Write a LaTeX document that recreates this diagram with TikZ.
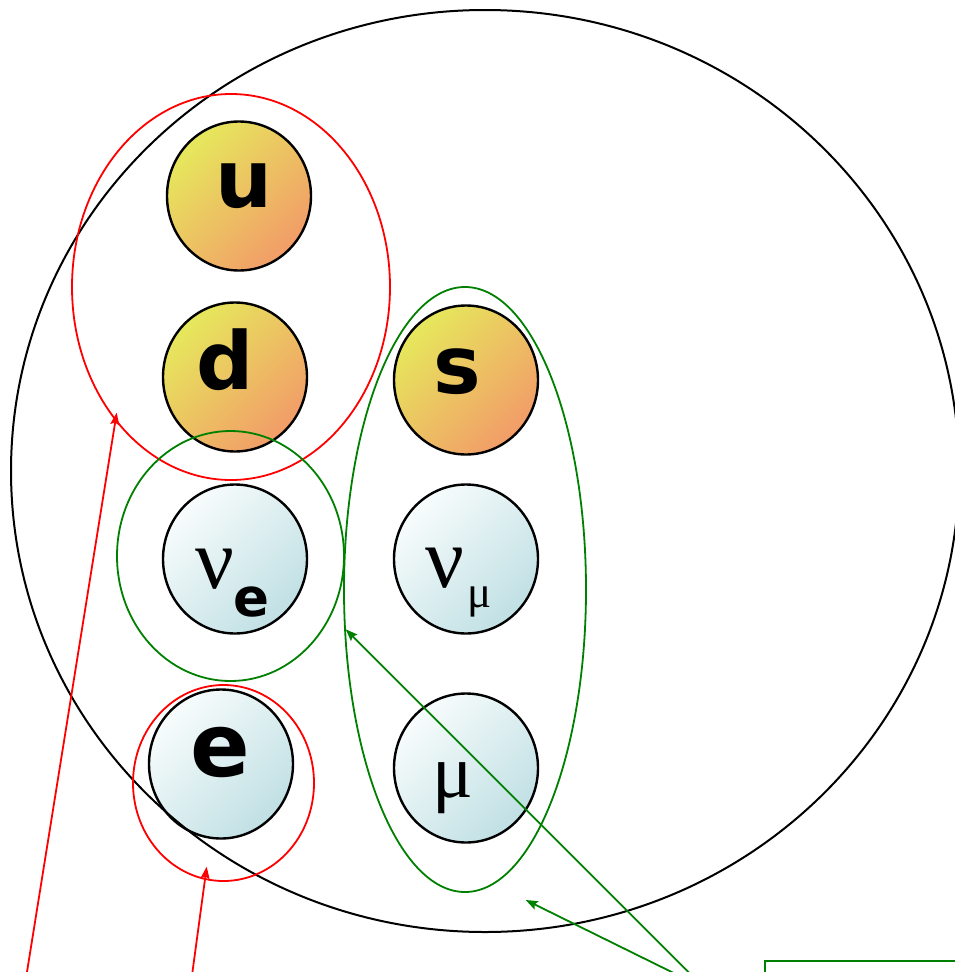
\documentclass[tikz,border=0pt]{standalone}
\usepackage{fontspec}
\usetikzlibrary{shapes.geometric,arrows.meta}
\newfontfamily\dvs{DejaVu Sans}
\newfontfamily\grk{Liberation Serif}
\definecolor{qtop}{RGB}{230,232,92}
\definecolor{qbot}{RGB}{242,156,104}
\definecolor{ltop}{RGB}{248,252,252}
\definecolor{lbot}{RGB}{192,224,228}
\definecolor{sgreen}{RGB}{0,128,0}
\tikzset{
  particle/.style={ellipse, draw=black, line width=2.4pt, minimum width=144pt, minimum height=149pt, inner sep=0pt},
  quark/.style={particle, top color=qtop, bottom color=qbot, shading angle=45},
  lepton/.style={particle, top color=ltop, bottom color=lbot, shading angle=45},
  grp/.style={ellipse, line width=1.8pt, inner sep=0pt, fill=none},
  lbl/.style={anchor=base, inner sep=0pt},
  arr/.style={line width=1.8pt, -{Stealth[length=12pt,width=9pt,inset=2pt]}}
}
\begin{document}
\begin{tikzpicture}[x=1pt,y=-1pt]
\useasboundingbox (0,0) rectangle (955,972);
\clip (0,0) rectangle (955,972);
\fill[white] (0,0) rectangle (955,972);
% particles
\node[quark] (u) at (239,196) {};
\node[quark] (d) at (235,377) {};
\node[quark] (s) at (466,380) {};
\node[lepton] (nue) at (235,559) {};
\node[lepton] (num) at (466,559) {};
\node[lepton] (e) at (221,764) {};
\node[lepton] (mu) at (466,768) {};
% labels
\node[lbl] (tu) at (243.5,207) {\dvs\bfseries\fontsize{80}{80}\selectfont u};
\node[lbl] (td) at (225,389) {\dvs\bfseries\fontsize{80}{80}\selectfont d};
\node[lbl] (ts) at (457.5,393) {\dvs\bfseries\fontsize{80}{80}\selectfont s};
\node[lbl] (te) at (220,776) {\dvs\bfseries\fontsize{88}{88}\selectfont e};
\node[lbl] (tnue) at (215,588) {\grk\fontsize{86}{86}\selectfont ν};
\node[lbl] (tnuesub) at (251.5,616) {\dvs\bfseries\fontsize{53}{53}\selectfont e};
\node[lbl] (tnum) at (445,587) {\grk\fontsize{86}{86}\selectfont ν};
\node[lbl] (tnumsub) at (479.5,607) {\grk\fontsize{45}{45}\selectfont μ};
\node[lbl] (tmu) at (453,797) {\grk\fontsize{76}{76}\selectfont μ};
% big circle
\node[grp, draw=black, line width=2pt, minimum width=948pt, minimum height=922pt] (big) at (485,471) {};
% group ellipses
\node[grp, draw=red, minimum width=318pt, minimum height=386pt] (ud) at (231,287) {};
\node[grp, draw=sgreen, minimum width=227pt, minimum height=250pt] (gnue) at (230.5,556) {};
\node[grp, draw=red, minimum width=181pt, minimum height=196pt] (ge) at (223.5,783) {};
\node[grp, draw=sgreen, minimum width=242pt, minimum height=605pt] (gsmu) at (465,589.5) {};
% arrow ends
\coordinate (r1a) at (24.9,985);
\coordinate (r1b) at (116.7,412.7);
\coordinate (r2a) at (190.7,985);
\coordinate (r2b) at (206.7,866.7);
\coordinate (g1a) at (701.4,985);
\coordinate (g1b) at (345.7,629.3);
\coordinate (g2a) at (698,985);
\coordinate (g2b) at (525.7,900);
\draw[arr, red] (r1a) -- (r1b);
\draw[arr, red] (r2a) -- (r2b);
\draw[arr, sgreen] (g1a) -- (g1b);
\draw[arr, sgreen] (g2a) -- (g2b);
% box at bottom right
\node[draw=sgreen, line width=1.8pt, anchor=north west, minimum width=300pt, minimum height=100pt, inner sep=0pt] (box) at (764,960) {};
\end{tikzpicture}
\end{document}
